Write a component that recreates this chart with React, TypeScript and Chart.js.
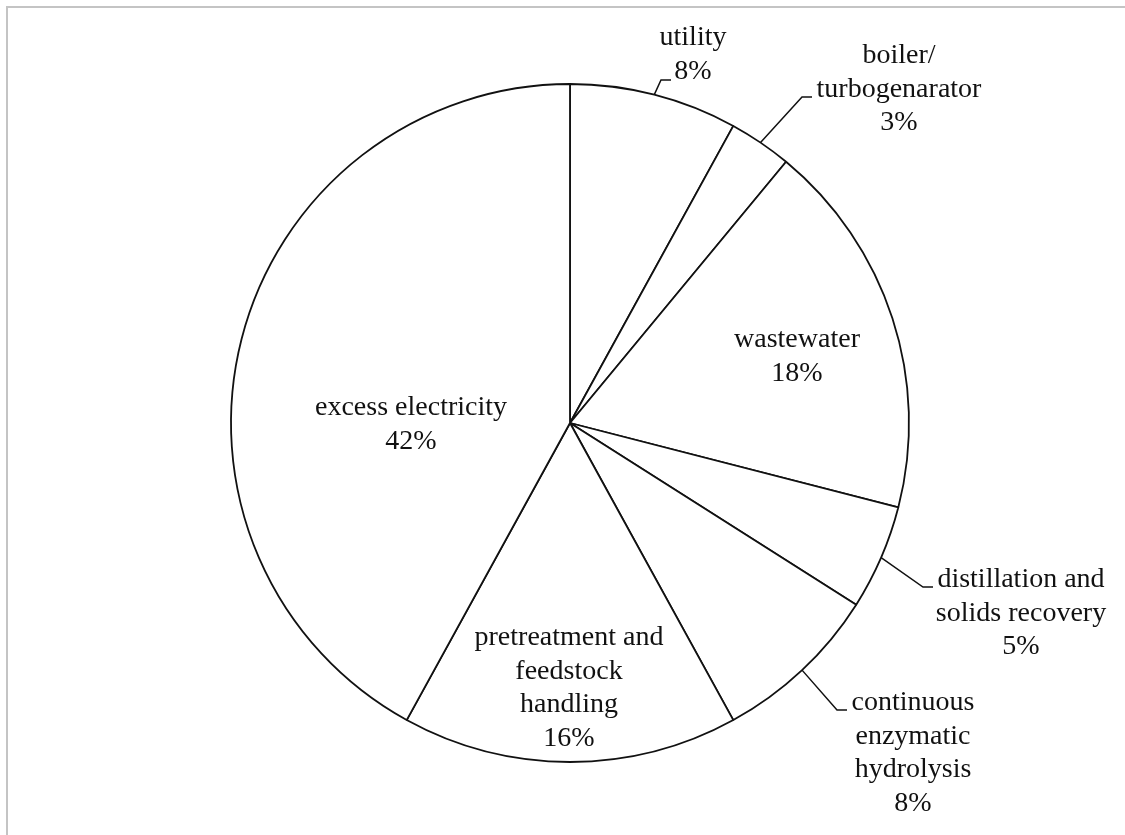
import React, { useEffect, useRef } from "react";
import { Chart, registerables } from "chart.js";

Chart.register(...registerables);

// Cost share by plant area, clockwise from the top
const categories: string[][] = [
  ["utility"],
  ["boiler/", "turbogenarator"],
  ["wastewater"],
  ["distillation and", "solids recovery"],
  ["continuous", "enzymatic", "hydrolysis"],
  ["pretreatment and", "feedstock", "handling"],
  ["excess electricity"],
];
const shares: number[] = [8, 3, 18, 5, 8, 16, 42];

// Label placement relative to the pie centre: text centre x / first baseline,
// plus an optional elbow for the leader line (start is the slice's arc midpoint).
type LabelSpot = { dx: number; dy: number; elbow?: [number, number]; tail?: [number, number] };
const labelSpots: LabelSpot[] = [
  { dx: 123, dy: -378, elbow: [91, -343], tail: [101, -343] },
  { dx: 329, dy: -360, elbow: [232, -326], tail: [242, -326] },
  { dx: 227, dy: -76 },
  { dx: 451, dy: 164, elbow: [353, 164], tail: [363, 164] },
  { dx: 343, dy: 287, elbow: [267, 287], tail: [277, 287] },
  { dx: -1, dy: 222 },
  { dx: -159, dy: -8 },
];

const FONT = "28px 'Liberation Serif', 'Times New Roman', serif";
const LINE_H = 33.7;

const framePlugin = {
  id: "frame",
  beforeDraw(chart: Chart) {
    const { ctx } = chart;
    ctx.save();
    ctx.fillStyle = "#ffffff";
    ctx.fillRect(0, 0, chart.width, chart.height);
    ctx.strokeStyle = "#c4c4c4";
    ctx.lineWidth = 2;
    ctx.beginPath();
    ctx.moveTo(7, chart.height + 5);
    ctx.lineTo(7, 7);
    ctx.lineTo(chart.width + 5, 7);
    ctx.stroke();
    ctx.restore();
  },
};

const labelPlugin = {
  id: "sliceLabels",
  afterDraw(chart: Chart) {
    const { ctx } = chart;
    const meta = chart.getDatasetMeta(0);
    ctx.save();
    ctx.font = FONT;
    ctx.fillStyle = "#111111";
    ctx.textAlign = "center";
    ctx.textBaseline = "alphabetic";
    ctx.strokeStyle = "#111111";
    ctx.lineWidth = 1.5;
    meta.data.forEach((el: any, i: number) => {
      const cx = el.x;
      const cy = el.y;
      const spot = labelSpots[i];
      if (spot.elbow && spot.tail) {
        const mid = (el.startAngle + el.endAngle) / 2;
        const r = el.outerRadius;
        ctx.beginPath();
        ctx.moveTo(cx + Math.cos(mid) * r, cy + Math.sin(mid) * r);
        ctx.lineTo(cx + spot.elbow[0], cy + spot.elbow[1]);
        ctx.lineTo(cx + spot.tail[0], cy + spot.tail[1]);
        ctx.stroke();
      }
      const lines = [...categories[i], `${shares[i]}%`];
      lines.forEach((t, k) => {
        ctx.fillText(t, cx + spot.dx, cy + spot.dy + k * LINE_H);
      });
    });
    ctx.restore();
  },
};

export default function App() {
  const ref = useRef<HTMLCanvasElement | null>(null);

  useEffect(() => {
    if (!ref.current) return;
    const chart = new Chart(ref.current, {
      type: "pie",
      data: {
        labels: categories.map((c) => c.join(" ")),
        datasets: [
          {
            data: shares,
            backgroundColor: "#ffffff",
            borderColor: "#111111",
            borderWidth: 1.8,
          },
        ],
      },
      options: {
        animation: false,
        responsive: false,
        maintainAspectRatio: false,
        radius: 339,
        layout: { padding: { left: 15, top: 11, right: 0, bottom: 0 } },
        plugins: {
          legend: { display: false },
          tooltip: { enabled: false },
        },
      },
      plugins: [framePlugin, labelPlugin],
    });
    return () => chart.destroy();
  }, []);

  return (
    <div
      style={{
        position: "fixed",
        left: 0,
        top: 0,
        width: 1125,
        height: 835,
        background: "#ffffff",
        overflow: "hidden",
      }}
    >
      <canvas ref={ref} width={1125} height={835} style={{ display: "block" }} />
    </div>
  );
}
